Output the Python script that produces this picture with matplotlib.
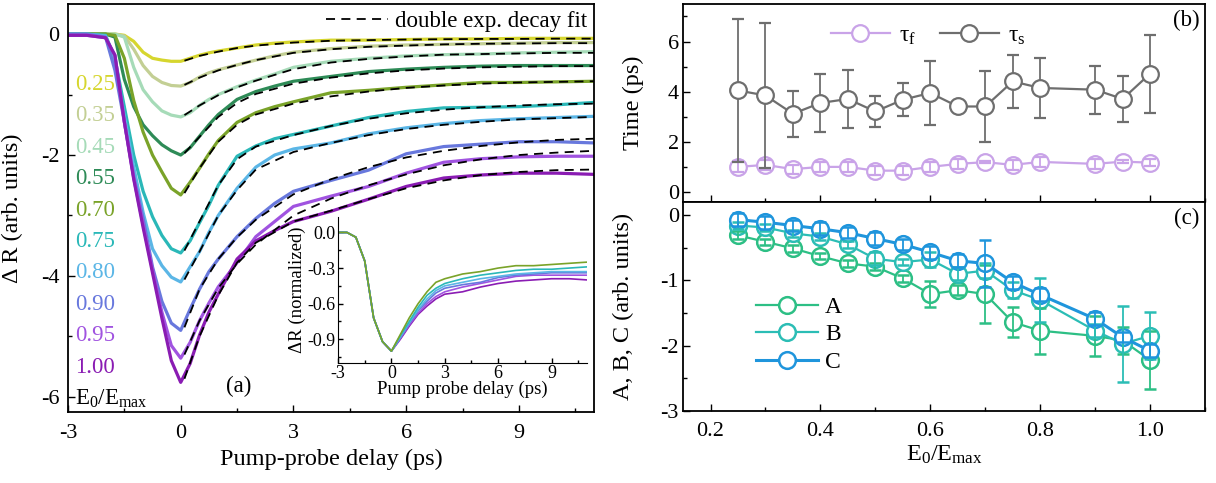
import numpy as np
import matplotlib.pyplot as plt
from matplotlib.lines import Line2D
from matplotlib.ticker import MultipleLocator

plt.rcParams['font.family'] = ['Liberation Serif', 'DejaVu Serif']
plt.rcParams['mathtext.fontset'] = 'custom'
plt.rcParams['mathtext.rm'] = 'Liberation Serif'
plt.rcParams['mathtext.it'] = 'Liberation Serif:italic'
plt.rcParams['xtick.direction'] = 'in'
plt.rcParams['ytick.direction'] = 'in'
plt.rcParams['axes.unicode_minus'] = False

# ---- panel (a): transient reflectivity ----
delay = [-3, -2.5, -2, -1.75, -1.5, -1.25, -1, -0.75, -0.5, -0.25, 0, 0.25, 0.5,
         0.75, 1, 1.5, 2, 2.5, 3, 4, 5, 6, 7, 8, 9, 10, 11]
fluence = ['0.25', '0.35', '0.45', '0.55', '0.70', '0.75', '0.80', '0.90', '0.95', '1.00']
colors = ['#d6d62e', '#c3cf94', '#a6dbb8', '#2e8b57', '#7aa329',
          '#2ab8b8', '#5bb6e6', '#6878dd', '#a053e0', '#8a1cb3']

dR_025 = [0, 0, 0, 0, -0.02, -0.12, -0.3, -0.4, -0.43, -0.45, -0.45, -0.4, -0.35,
          -0.31, -0.28, -0.23, -0.18, -0.15, -0.13, -0.1, -0.1, -0.09, -0.08, -0.08, -0.07, -0.07, -0.07]
dR_035 = [0, 0, 0, 0, -0.03, -0.25, -0.52, -0.7, -0.8, -0.85, -0.86, -0.8, -0.71,
          -0.64, -0.59, -0.51, -0.43, -0.36, -0.3, -0.24, -0.2, -0.18, -0.17, -0.16, -0.15, -0.14, -0.14]
dR_045 = [0, 0, 0, 0, -0.05, -0.55, -0.92, -1.12, -1.27, -1.34, -1.37, -1.3, -1.18,
          -1.08, -1.0, -0.87, -0.76, -0.66, -0.55, -0.45, -0.4, -0.36, -0.34, -0.33, -0.31, -0.3, -0.29]
dR_055 = [0, 0, 0, -0.05, -0.75, -1.2, -1.5, -1.68, -1.83, -1.93, -2.0, -1.88, -1.69,
          -1.5, -1.33, -1.08, -0.95, -0.86, -0.78, -0.7, -0.62, -0.58, -0.55, -0.53, -0.52, -0.52, -0.52]
dR_070 = [0, 0, 0, -0.02, -0.4, -1.1, -1.62, -2.0, -2.28, -2.55, -2.66, -2.45, -2.22,
          -1.98, -1.76, -1.46, -1.3, -1.2, -1.12, -0.97, -0.93, -0.88, -0.84, -0.8, -0.8, -0.79, -0.78]
dR_075 = [0, 0, -0.02, -0.4, -1.2, -2.0, -2.6, -3.02, -3.33, -3.55, -3.62, -3.42, -3.12,
          -2.83, -2.5, -2.02, -1.85, -1.73, -1.66, -1.52, -1.38, -1.28, -1.22, -1.21, -1.2, -1.17, -1.13]
dR_080 = [0, 0, -0.03, -0.5, -1.35, -2.2, -2.95, -3.55, -3.83, -4.02, -4.1, -3.85, -3.6,
          -3.28, -3.0, -2.55, -2.2, -2.0, -1.9, -1.8, -1.65, -1.55, -1.48, -1.43, -1.4, -1.38, -1.36]
dR_090 = [0, 0, -0.05, -0.6, -1.45, -2.35, -3.05, -3.85, -4.42, -4.78, -4.9, -4.55, -4.22,
          -3.93, -3.72, -3.35, -3.05, -2.8, -2.6, -2.42, -2.25, -1.98, -1.86, -1.82, -1.78, -1.78, -1.8]
dR_095 = [-0.02, -0.02, -0.06, -0.35, -1.45, -2.38, -3.15, -3.9, -4.6, -5.15, -5.36, -5.1, -4.74,
          -4.45, -4.18, -3.78, -3.35, -3.1, -2.85, -2.68, -2.52, -2.3, -2.12, -2.06, -2.03, -2.02, -2.02]
dR_100 = [-0.02, -0.02, -0.06, -0.35, -1.45, -2.4, -3.2, -3.95, -4.7, -5.4, -5.76, -5.45, -4.98,
          -4.6, -4.3, -3.72, -3.42, -3.25, -3.1, -2.93, -2.73, -2.52, -2.38, -2.33, -2.3, -2.3, -2.32]
curves = [dR_025, dR_035, dR_045, dR_055, dR_070, dR_075, dR_080, dR_090, dR_095, dR_100]

# dashed double-exponential fits
fit_delay = [0.1, 0.5, 1, 1.5, 2, 3, 4, 5, 6, 7, 8, 9, 10, 11]
fits = [
    [-0.44, -0.36, -0.29, -0.23, -0.19, -0.14, -0.11, -0.10, -0.09, -0.085, -0.08, -0.08, -0.075, -0.075],
    [-0.84, -0.72, -0.6, -0.51, -0.43, -0.31, -0.25, -0.21, -0.19, -0.17, -0.16, -0.155, -0.15, -0.15],
    [-1.34, -1.18, -1.01, -0.88, -0.77, -0.58, -0.47, -0.41, -0.37, -0.34, -0.33, -0.32, -0.31, -0.31],
    [-1.97, -1.7, -1.37, -1.14, -0.99, -0.82, -0.72, -0.65, -0.6, -0.57, -0.55, -0.54, -0.53, -0.53],
    [-2.63, -2.22, -1.78, -1.5, -1.33, -1.15, -1.03, -0.95, -0.89, -0.85, -0.82, -0.8, -0.79, -0.78],
    [-3.58, -3.1, -2.5, -2.07, -1.86, -1.67, -1.52, -1.4, -1.31, -1.25, -1.21, -1.18, -1.16, -1.15],
    [-4.06, -3.6, -3.0, -2.58, -2.24, -1.95, -1.8, -1.67, -1.57, -1.5, -1.45, -1.41, -1.39, -1.37],
    [-4.85, -4.22, -3.72, -3.36, -3.07, -2.65, -2.4, -2.2, -2.04, -1.93, -1.85, -1.79, -1.75, -1.73],
    [-5.3, -4.74, -4.2, -3.8, -3.48, -3.0, -2.72, -2.5, -2.32, -2.17, -2.07, -2.0, -1.96, -1.93],
    [-5.7, -5.0, -4.32, -3.78, -3.45, -3.1, -2.92, -2.73, -2.55, -2.42, -2.33, -2.28, -2.25, -2.24],
]

# inset: normalized curves for 0.70 ... 1.00
inset_delay = [-3, -2.5, -2, -1.5, -1, -0.5, 0, 0.5, 1, 1.5, 2, 2.5, 3, 4, 5, 6, 7, 8, 9, 10, 11]
norm_070 = [0, 0, -0.04, -0.24, -0.72, -0.92, -1.0, -0.86, -0.72, -0.6, -0.5, -0.42, -0.39, -0.35, -0.33, -0.3, -0.28, -0.28, -0.27, -0.26, -0.25]
norm_075 = [0, 0, -0.04, -0.24, -0.72, -0.92, -1.0, -0.87, -0.75, -0.63, -0.53, -0.47, -0.43, -0.39, -0.36, -0.34, -0.32, -0.31, -0.31, -0.3, -0.29]
norm_080 = [0, 0, -0.04, -0.24, -0.72, -0.92, -1.0, -0.88, -0.76, -0.65, -0.56, -0.49, -0.45, -0.42, -0.39, -0.37, -0.35, -0.34, -0.33, -0.33, -0.33]
norm_090 = [0, 0, -0.04, -0.24, -0.72, -0.92, -1.0, -0.89, -0.77, -0.66, -0.58, -0.51, -0.47, -0.44, -0.42, -0.38, -0.36, -0.35, -0.34, -0.34, -0.34]
norm_095 = [0, 0, -0.04, -0.24, -0.72, -0.92, -1.0, -0.89, -0.78, -0.68, -0.6, -0.54, -0.5, -0.46, -0.43, -0.4, -0.37, -0.36, -0.36, -0.36, -0.36]
norm_100 = [0, 0, -0.04, -0.24, -0.72, -0.92, -1.0, -0.9, -0.79, -0.69, -0.62, -0.56, -0.52, -0.5, -0.46, -0.43, -0.41, -0.4, -0.39, -0.39, -0.4]
inset_curves = [norm_100, norm_095, norm_090, norm_080, norm_075, norm_070]
inset_colors = [colors[9], colors[8], colors[7], colors[6], colors[5], colors[4]]

# ---- panels (b), (c): fit parameters vs E0/Emax ----
ratio = [0.25, 0.30, 0.35, 0.40, 0.45, 0.50, 0.55, 0.60, 0.65, 0.70, 0.75, 0.80, 0.90, 0.95, 1.00]
tau_f = [1.0, 1.08, 0.91, 1.0, 1.0, 0.85, 0.85, 1.0, 1.12, 1.19, 1.08, 1.2, 1.12, 1.21, 1.17]
tau_f_err = [0.22, 0.2, 0.18, 0.2, 0.2, 0.18, 0.18, 0.2, 0.2, 0.05, 0.2, 0.2, 0.2, 0.05, 0.15]
tau_s = [4.05, 3.85, 3.12, 3.55, 3.71, 3.21, 3.68, 3.95, 3.41, 3.41, 4.41, 4.15, 4.08, 3.71, 4.72]
tau_s_err = [2.85, 2.9, 0.92, 1.17, 1.17, 0.6, 0.65, 1.27, 0.1, 1.4, 1.06, 1.18, 0.95, 0.9, 1.55]

amp_A = [-0.31, -0.41, -0.51, -0.63, -0.74, -0.79, -0.97, -1.21, -1.15, -1.21, -1.64, -1.77, -1.85, -1.92, -2.22]
amp_A_err = [0.06, 0.05, 0.05, 0.05, 0.05, 0.05, 0.05, 0.2, 0.08, 0.45, 0.23, 0.35, 0.3, 0.2, 0.44]
amp_B = [-0.16, -0.19, -0.28, -0.33, -0.45, -0.67, -0.72, -0.68, -0.9, -0.85, -1.15, -1.3, -1.77, -1.97, -1.85]
amp_B_err = [0.05, 0.05, 0.05, 0.05, 0.06, 0.1, 0.05, 0.12, 0.1, 0.12, 0.12, 0.33, 0.1, 0.58, 0.36]
amp_C = [-0.07, -0.11, -0.16, -0.21, -0.27, -0.36, -0.45, -0.57, -0.7, -0.74, -1.03, -1.22, -1.59, -1.87, -2.08]
amp_C_err = [0.1, 0.1, 0.08, 0.1, 0.08, 0.1, 0.08, 0.1, 0.1, 0.36, 0.1, 0.1, 0.1, 0.08, 0.1]

fs_tick = 16
fs_label = 17.5

fig = plt.figure(figsize=(12.16, 4.83), dpi=100)
ax = fig.add_axes([0.0559, 0.147, 0.4326, 0.845])
axb = fig.add_axes([0.5617, 0.5818, 0.4293, 0.41])
axc = fig.add_axes([0.5617, 0.149, 0.4293, 0.4328])
axi = fig.add_axes([0.278, 0.2484, 0.2048, 0.3023])

# panel (a)
for i in range(len(curves)):
    ax.plot(delay, curves[i], color=colors[i], lw=2.3, zorder=2)
for i in range(len(fits)):
    ax.plot(fit_delay, fits[i], color='black', lw=1.3, ls=(0, (5, 3.5)), zorder=3,
            label='double exp. decay fit' if i == 0 else None)
for i in range(len(fluence)):
    ax.text(-2.8, -0.83 - 0.52 * i, fluence[i], color=colors[i], fontsize=16.5,
            ha='left', va='center')
ax.text(-2.8, -0.83 - 0.52 * 10, r'E$_0$/E$_\mathrm{max}$', color='black',
        fontsize=16.5, ha='left', va='center')
ax.text(1.55, -5.82, '(a)', fontsize=16.5, ha='center', va='center')
ax.set_xlim(-3, 11)
ax.set_ylim(-6.25, 0.5)
ax.xaxis.set_major_locator(MultipleLocator(3))
ax.xaxis.set_minor_locator(MultipleLocator(1.5))
ax.yaxis.set_major_locator(MultipleLocator(2))
ax.yaxis.set_minor_locator(MultipleLocator(1))
ax.tick_params(which='major', length=5, width=1, labelsize=fs_tick)
ax.tick_params(which='minor', length=3, width=1)
ax.tick_params(axis='x', pad=9)
ax.tick_params(axis='y', pad=6)
ax.set_xlabel('Pump-probe delay (ps)', fontsize=fs_label, labelpad=4)
ax.set_ylabel('Δ R (arb. units)', fontsize=fs_label)
ax.yaxis.set_label_coords(-0.086, 0.5)
ax.legend(loc='upper right', frameon=False, fontsize=16.5, handlelength=2.7,
          handletextpad=0.3, borderaxespad=0.1, borderpad=0.2)

# inset
for i in range(len(inset_curves)):
    axi.plot(inset_delay, inset_curves[i], color=inset_colors[i], lw=1.2)
axi.set_xlim(-3, 11)
axi.set_ylim(-1.1, 0.13)
axi.spines['top'].set_visible(False)
axi.spines['right'].set_visible(False)
axi.patch.set_alpha(0)
axi.xaxis.set_major_locator(MultipleLocator(3))
axi.xaxis.set_minor_locator(MultipleLocator(1.5))
axi.yaxis.set_minor_locator(MultipleLocator(0.15))
axi.set_yticks([0.0, -0.3, -0.6, -0.9])
axi.set_yticklabels(['0.0', '-0.3', '-0.6', '-0.9'])
axi.tick_params(which='major', length=3.5, width=1, labelsize=13, pad=1.5)
axi.tick_params(which='minor', length=2, width=1)
axi.set_xlabel('Pump probe delay (ps)', fontsize=13.5, labelpad=-1)
axi.set_ylabel('ΔR (normalized)', fontsize=13.5, labelpad=1)

# panel (b)
col_s, col_f = '#6e6e6e', '#c9a3e8'
axb.errorbar(ratio, tau_s, yerr=tau_s_err, color=col_s, lw=1.6, marker='o', ms=12,
             mfc='white', mec=col_s, mew=1.6, capsize=4.5, elinewidth=1.3,
             capthick=1.3, zorder=3)
axb.errorbar(ratio, tau_f, yerr=tau_f_err, color=col_f, lw=1.6, marker='o', ms=12,
             mfc='white', mec=col_f, mew=1.6, capsize=4.5, elinewidth=1.3,
             capthick=1.3, barsabove=True, zorder=2)
hb = [Line2D([], [], color=col_f, lw=1.6, marker='o', ms=12, mfc='white', mew=1.6),
      Line2D([], [], color=col_s, lw=1.6, marker='o', ms=12, mfc='white', mew=1.6)]
axb.legend(hb, ['τ$_\\mathrm{f}$', 'τ$_\\mathrm{s}$'], loc='upper center', ncol=2,
           frameon=False, fontsize=17, handlelength=2.5, columnspacing=1.0,
           handletextpad=0.4, bbox_to_anchor=(0.47, 1.0))
axb.set_xlim(0.15, 1.1)
axb.set_ylim(-0.4, 7.5)
axb.xaxis.set_major_locator(MultipleLocator(0.2))
axb.xaxis.set_minor_locator(MultipleLocator(0.1))
axb.yaxis.set_major_locator(MultipleLocator(2))
axb.yaxis.set_minor_locator(MultipleLocator(1))
axb.tick_params(which='major', length=5, width=1, labelsize=fs_tick)
axb.tick_params(which='minor', length=3, width=1)
axb.tick_params(axis='x', labelbottom=False)
axb.tick_params(axis='y', pad=3)
axb.set_ylabel('Time (ps)', fontsize=fs_label)
axb.yaxis.set_label_coords(-0.075, 0.5)
axb.text(0.99, 0.97, '(b)', transform=axb.transAxes, fontsize=16.5, ha='right', va='top')

# panel (c)
hc = []
for vals, errs, col, lab in [(amp_A, amp_A_err, '#2dbf85', 'A'),
                             (amp_B, amp_B_err, '#2bbdb5', 'B'),
                             (amp_C, amp_C_err, '#1f95dc', 'C')]:
    lw = 2.2 if lab == 'C' else 1.6
    axc.errorbar(ratio, vals, yerr=errs, color=col, lw=lw,
                 marker='o', ms=12, mfc='white', mec=col, mew=1.8, capsize=4.5,
                 elinewidth=1.3, capthick=1.3, barsabove=True)
    hc.append(Line2D([], [], color=col, lw=lw, marker='o', ms=12, mfc='white', mew=1.8))
axc.legend(hc, ['A', 'B', 'C'], loc='upper left', frameon=False, fontsize=17,
           handlelength=2.6, handletextpad=0.3, labelspacing=0.25,
           bbox_to_anchor=(0.1, 0.65))
axc.set_xlim(0.15, 1.1)
axc.set_ylim(-3, 0.2)
axc.xaxis.set_minor_locator(MultipleLocator(0.1))
axc.yaxis.set_major_locator(MultipleLocator(1))
axc.yaxis.set_minor_locator(MultipleLocator(0.5))
axc.tick_params(which='major', length=5, width=1, labelsize=fs_tick)
axc.tick_params(which='minor', length=3, width=1)
axc.tick_params(axis='x', pad=8)
axc.tick_params(axis='y', pad=3)
axc.set_xticks([0.2, 0.4, 0.6, 0.8, 1.0])
axc.set_xticklabels(['0.2', '0.4', '0.6', '0.8', '1.0'])
axc.set_xlabel(r'E$_0$/E$_\mathrm{max}$', fontsize=fs_label, labelpad=2)
axc.set_ylabel('A, B, C (arb. units)', fontsize=fs_label)
axc.yaxis.set_label_coords(-0.094, 0.5)
axc.text(0.99, 0.97, '(c)', transform=axc.transAxes, fontsize=16.5, ha='right', va='top')

for a in [ax, axb, axc]:
    for s in a.spines.values():
        s.set_linewidth(1.3)

fig.savefig('out.png', dpi=100)
